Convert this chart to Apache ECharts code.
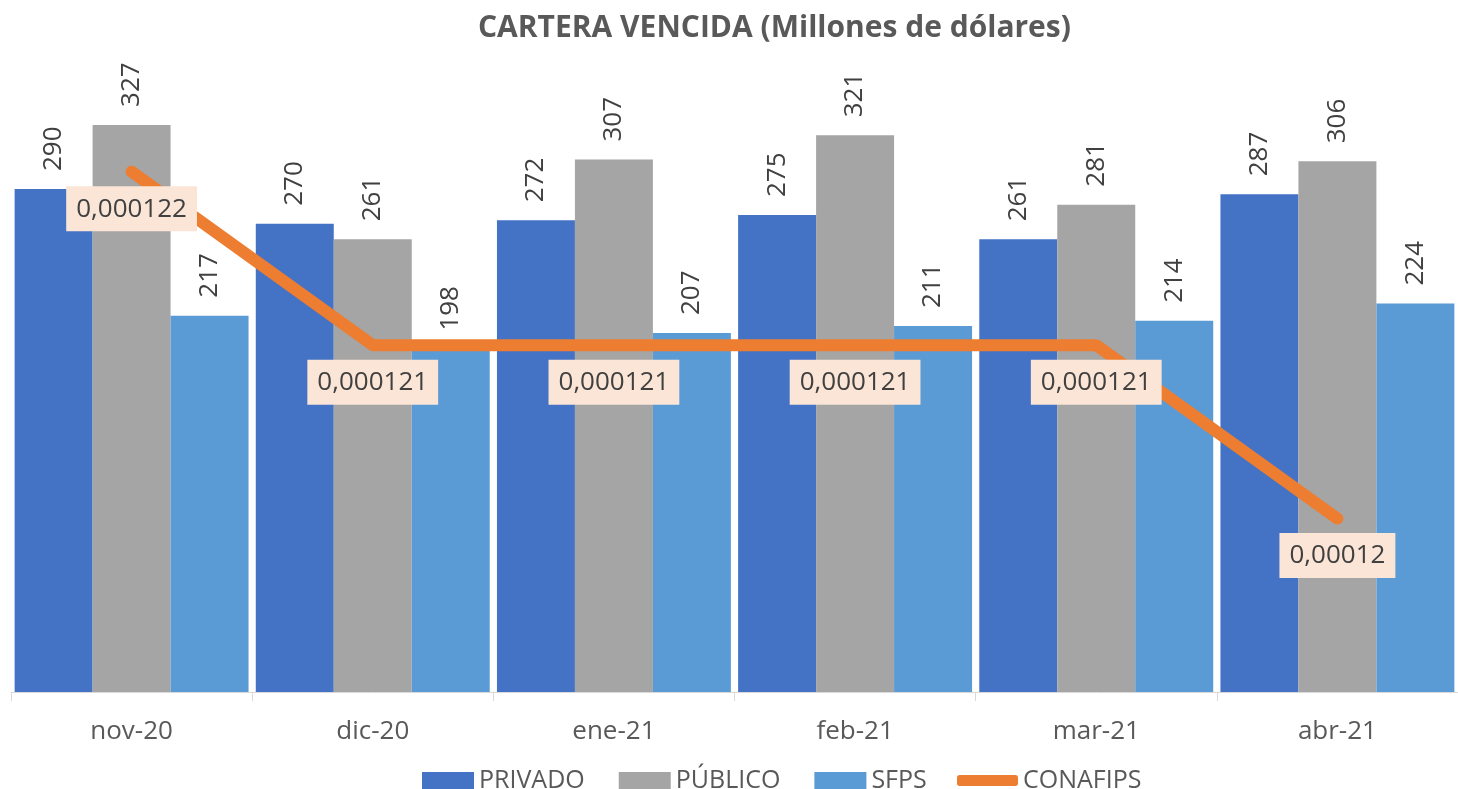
<!DOCTYPE html>
<html lang="es">
<head>
	<meta charset="UTF-8">
	<title>Cartera vencida</title>
	<style>
		html, body { margin: 0; padding: 0; background: #fff; }
	</style>
</head>
<body>
<div id="chart" style="width:1458px;height:789px;"></div>
<script src="https://cdn.jsdelivr.net/npm/echarts@6/dist/echarts.min.js"></script>
<script>
// datos del grafico
var meses = ['nov-20', 'dic-20', 'ene-21', 'feb-21', 'mar-21', 'abr-21'];
var privado = [290, 270, 272, 275, 261, 287];
var publico = [327, 261, 307, 321, 281, 306];
var sfps = [217, 198, 207, 211, 214, 224];
var conafips = [0.000122, 0.000121, 0.000121, 0.000121, 0.000121, 0.00012];

var myChart = echarts.init(document.getElementById('chart'));

var fuente = '"Open Sans", sans-serif';

// etiqueta vertical encima de cada barra
var etiquetaBarra = {
	show: true,
	position: 'top',
	rotate: 90,
	align: 'left',
	verticalAlign: 'middle',
	distance: 18,
	fontFamily: fuente,
	fontSize: 26,
	color: '#404040'
};

var textoLeyenda = {
	fontFamily: fuente,
	fontSize: 25,
	color: '#595959'
};

var option = {
	animation: false,
	title: {
		text: 'CARTERA VENCIDA (Millones de dólares)',
		left: 473,
		top: 8,
		textStyle: {
			fontFamily: fuente,
			fontSize: 30,
			fontWeight: 'bold',
			color: '#595959'
		}
	},
	legend: [
		{
			top: 763,
			left: 417,
			itemWidth: 52,
			itemHeight: 17,
			itemGap: 34,
			icon: 'rect',
			textStyle: textoLeyenda,
			data: ['PRIVADO', 'PÚBLICO', 'SFPS']
		},
		{
			top: 763,
			left: 952,
			itemWidth: 61,
			itemHeight: 11,
			icon: 'roundRect',
			textStyle: textoLeyenda,
			data: ['CONAFIPS']
		}
	],
	grid: {
		left: 11,
		right: 0,
		top: 85,
		bottom: 97
	},
	xAxis: {
		type: 'category',
		data: meses,
		axisLine: { lineStyle: { color: '#D9D9D9', width: 1 } },
		axisTick: { show: true, length: 9, lineStyle: { color: '#D9D9D9' } },
		axisLabel: {
			fontFamily: fuente,
			fontSize: 26,
			color: '#595959',
			margin: 27
		}
	},
	yAxis: [
		{ type: 'value', min: 0, max: 350, show: false },
		{ type: 'value', min: 0.000119, max: 0.0001225, show: false }
	],
	series: [
		{
			name: 'PRIVADO',
			type: 'bar',
			data: privado,
			barGap: '0%',
			barCategoryGap: '3%',
			itemStyle: { color: '#4472C4' },
			label: etiquetaBarra
		},
		{
			name: 'PÚBLICO',
			type: 'bar',
			data: publico,
			barGap: '0%',
			barCategoryGap: '3%',
			itemStyle: { color: '#A5A5A5' },
			label: etiquetaBarra
		},
		{
			name: 'SFPS',
			type: 'bar',
			data: sfps,
			barGap: '0%',
			barCategoryGap: '3%',
			itemStyle: { color: '#5B9BD5' },
			label: etiquetaBarra
		},
		{
			name: 'CONAFIPS',
			type: 'line',
			yAxisIndex: 1,
			data: conafips,
			symbol: 'circle',
			symbolSize: 1,
			showSymbol: true,
			itemStyle: { color: '#ED7D31' },
			lineStyle: { color: '#ED7D31', width: 12, cap: 'round', join: 'bevel' },
			z: 5,
			label: {
				show: true,
				position: 'bottom',
				distance: 14,
				fontFamily: fuente,
				fontSize: 26,
				color: '#404040',
				backgroundColor: '#FBE5D6',
				padding: [10, 10, 9, 10],
				formatter: function (p) {
					return String(p.value).replace('.', ',');
				}
			}
		}
	]
};

myChart.setOption(option);
</script>
</body>
</html>
